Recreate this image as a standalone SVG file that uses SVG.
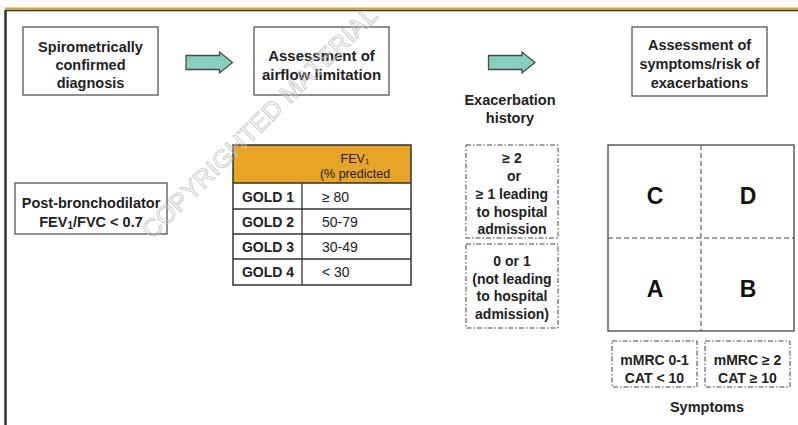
<svg xmlns="http://www.w3.org/2000/svg" width="798" height="425" viewBox="0 0 798 425">
<style>
  .box{fill:#fff;stroke:#555;stroke-width:1.3}
  .dash{fill:#fff;stroke:#444;stroke-width:1;stroke-dasharray:5,2,1.5,2}
  .t{font-family:"Liberation Sans",Arial,sans-serif;font-weight:bold;fill:#222;text-anchor:middle}
  .r{font-family:"Liberation Sans",Arial,sans-serif;fill:#222}
  .arrow{fill:#86cfbd;stroke:#4a4a4a;stroke-width:1.3}
  .tl{stroke:#333;stroke-width:1.3}
  .big{font-family:"Liberation Sans",Arial,sans-serif;font-weight:bold;fill:#111;text-anchor:middle;font-size:23px}
</style>
<rect width="798" height="425" fill="#fff"/>
<!-- frame -->
<line x1="5" y1="8.5" x2="798" y2="8.5" stroke="#e0a020" stroke-width="2"/>
<line x1="5" y1="10.5" x2="798" y2="10.5" stroke="#333" stroke-width="1.5"/>
<line x1="5.5" y1="10" x2="5.5" y2="425" stroke="#333" stroke-width="2.5"/>

<g id="connectors">
  <path class="arrow" d="M186,55.5 H219.5 V52 L232.5,62.5 L219.5,73 V69.5 H186 Z"/>
  <path class="arrow" d="M488.5,55.5 H522 V52 L535,62.5 L522,73 V69.5 H488.5 Z"/>
</g>

<g id="spiro">
  <rect class="box" x="23" y="27" width="135" height="68"/>
  <text class="t" font-size="14.5" x="90.5" y="52">Spirometrically</text>
  <text class="t" font-size="14.5" x="90.5" y="70">confirmed</text>
  <text class="t" font-size="14.5" x="90.5" y="88">diagnosis</text>
</g>

<g id="airflow">
  <rect class="box" x="254" y="27" width="135" height="68"/>
  <text class="t" font-size="15" x="321.5" y="61">Assessment of</text>
  <text class="t" font-size="15" x="321.5" y="80">airflow limitation</text>
</g>

<g id="symptoms-risk">
  <rect class="box" x="632" y="27" width="135" height="69"/>
  <text class="t" font-size="14.5" x="699.5" y="50">Assessment of</text>
  <text class="t" font-size="14.5" x="699.5" y="69">symptoms/risk of</text>
  <text class="t" font-size="14.5" x="699.5" y="88">exacerbations</text>
</g>

<g id="exac-title">
  <text class="t" font-size="14.5" x="510" y="105">Exacerbation</text>
  <text class="t" font-size="14.5" x="510" y="123">history</text>
</g>

<g id="post-bd">
  <rect class="box" x="15" y="183" width="152" height="51"/>
  <text class="t" font-size="14.5" x="91" y="208">Post-bronchodilator</text>
  <text class="t" font-size="14.5" x="91" y="227">FEV<tspan font-size="10" dy="2">1</tspan><tspan dy="-2">/FVC &lt; 0.7</tspan></text>
</g>

<g id="gold-table">
  <rect x="233" y="145" width="178" height="38" fill="#e8a427"/>
  <rect x="233" y="145" width="178" height="140" fill="none" stroke="#333" stroke-width="1.5"/>
  <line class="tl" x1="233" y1="183" x2="411" y2="183"/>
  <line class="tl" x1="233" y1="209" x2="411" y2="209"/>
  <line class="tl" x1="233" y1="234" x2="411" y2="234"/>
  <line class="tl" x1="233" y1="259" x2="411" y2="259"/>
  <line class="tl" x1="302" y1="183" x2="302" y2="285"/>
  <text class="r" font-size="12.5" x="355" y="163" text-anchor="middle">FEV<tspan font-size="8" dy="1">1</tspan></text>
  <text class="r" font-size="12.5" x="355" y="178" text-anchor="middle">(% predicted</text>
  <text class="t" font-size="14" x="268" y="202">GOLD 1</text>
  <text class="t" font-size="14" x="268" y="227">GOLD 2</text>
  <text class="t" font-size="14" x="268" y="252">GOLD 3</text>
  <text class="t" font-size="14" x="268" y="277">GOLD 4</text>
  <text class="r" font-size="14" x="322" y="202">≥ 80</text>
  <text class="r" font-size="14" x="322" y="227">50-79</text>
  <text class="r" font-size="14" x="322" y="252">30-49</text>
  <text class="r" font-size="14" x="322" y="277">&lt; 30</text>
</g>

<g id="exac-high">
  <rect class="dash" x="466" y="145" width="92" height="93"/>
  <text class="t" font-size="14" x="512" y="163">≥ 2</text>
  <text class="t" font-size="14" x="514" y="181">or</text>
  <text class="t" font-size="14" x="512" y="199">≥ 1 leading</text>
  <text class="t" font-size="14" x="512" y="217">to hospital</text>
  <text class="t" font-size="14" x="512" y="234">admission</text>
</g>

<g id="exac-low">
  <rect class="dash" x="466" y="244" width="92" height="84"/>
  <text class="t" font-size="14" x="512" y="266">0 or 1</text>
  <text class="t" font-size="14" x="512" y="284">(not leading</text>
  <text class="t" font-size="14" x="512" y="301">to hospital</text>
  <text class="t" font-size="14" x="512" y="319">admission)</text>
</g>

<g id="abcd-grid">
  <rect x="608" y="145" width="186" height="186" fill="#fff" stroke="#444" stroke-width="1.3"/>
  <line x1="701" y1="145" x2="701" y2="331" stroke="#444" stroke-width="1" stroke-dasharray="5,3"/>
  <line x1="608" y1="238" x2="794" y2="238" stroke="#444" stroke-width="1" stroke-dasharray="5,3"/>
  <text class="big" x="655" y="204">C</text>
  <text class="big" x="748" y="204">D</text>
  <text class="big" x="655" y="297">A</text>
  <text class="big" x="748" y="297">B</text>
</g>

<g id="sym-low">
  <rect class="dash" x="612" y="341" width="85" height="46"/>
  <text class="t" font-size="14" x="654.5" y="365">mMRC 0-1</text>
  <text class="t" font-size="14" x="654.5" y="383">CAT &lt; 10</text>
</g>

<g id="sym-high">
  <rect class="dash" x="705" y="341" width="85" height="46"/>
  <text class="t" font-size="14" x="747.5" y="365">mMRC ≥ 2</text>
  <text class="t" font-size="14" x="747.5" y="383">CAT ≥ 10</text>
</g>

<g id="symptoms-label">
  <text class="t" font-size="14.5" x="707" y="412">Symptoms</text>
</g>

<text x="152" y="240" transform="rotate(-44.5 152 240)" font-family="Liberation Sans,Arial,sans-serif" font-size="25" fill="none" stroke="#c4c4c4" stroke-width="0.8" textLength="318" lengthAdjust="spacing">COPYRIGHTED MATERIAL</text>
</svg>
